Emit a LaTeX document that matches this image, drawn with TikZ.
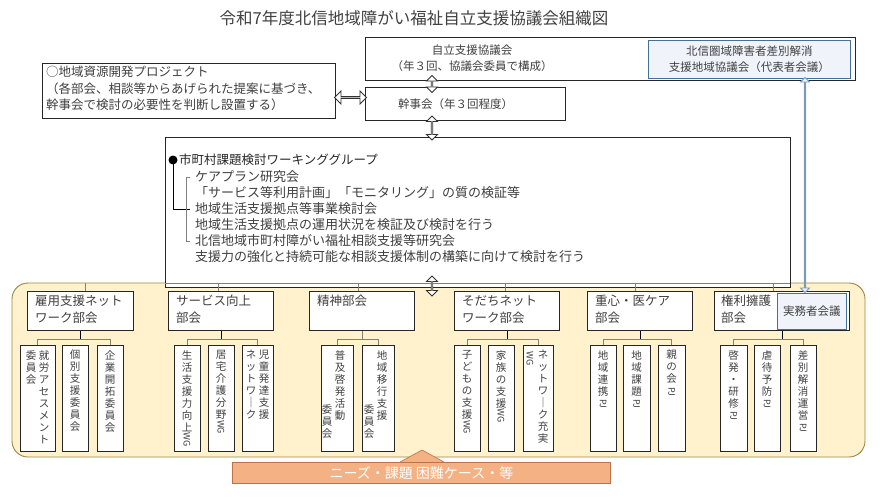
\documentclass[tikz,border=0pt]{standalone}
\usepackage{fontspec}
\setmainfont{Noto Sans CJK JP}
\usetikzlibrary{shapes.arrows,calc}
\definecolor{tan}{HTML}{FFF2CC}
\definecolor{tanline}{HTML}{A08440}
\definecolor{bluefill}{HTML}{F0F4FA}
\definecolor{blueline}{HTML}{41719C}
\definecolor{orangef}{HTML}{F4B183}
\definecolor{oranged}{HTML}{C0704A}
\definecolor{txt}{HTML}{404040}
\newcommand\RW{\rotatebox[origin=c]{-90}{\fontsize{9}{9}\selectfont WG}}
\newcommand\RP{\rotatebox[origin=c]{-90}{\fontsize{9}{9}\selectfont PJ}}
\begin{document}
\begin{tikzpicture}[x=1pt,y=-1pt,
  box/.style={draw=black!85,line width=1pt,fill=white,inner sep=0},
  sbox/.style={draw=black!85,line width=1pt,fill=white,inner sep=0,minimum height=106pt},
  tx/.style={text=txt,inner sep=0,font=\fontsize{11.5}{15.5}\selectfont,align=left},
  vt/.style={text=txt,inner sep=0,font=\fontsize{10.5}{12}\selectfont,align=center},
  conn/.style={draw=gray!80!tanline,line width=0.8pt},
  harrow/.style={double arrow,draw=black!80,fill=white,line width=0.8pt,double arrow head extend=2.5pt,inner sep=0,minimum width=11pt}]
\useasboundingbox (0,0) rectangle (880,500);
\node[text=txt,font=\fontsize{16.5}{16.5}\selectfont] (title) at (414,18) {令和7年度北信地域障がい福祉自立支援協議会組織図};
% top
\node[box,anchor=north west,minimum width=490pt,minimum height=43pt] (top) at (365,37) {};
\node[tx,align=center] (toptx) at (472,58) {自立支援協議会\\（年３回、協議会委員で構成）};
\node[draw=blueline,fill=bluefill,line width=0.8pt,anchor=north west,minimum width=202pt,minimum height=38pt,inner sep=0,text=txt,font=\fontsize{11.5}{15.5}\selectfont,align=center] (sabetsu) at (648,40) {北信圏域障害者差別解消\\支援地域協議会（代表者会議）};
\node[box,anchor=north west,minimum width=200pt,minimum height=33pt] (kanji) at (365,87) {};
\node[tx,anchor=west] at (398,104) {幹事会（年３回程度）};
\node[box,anchor=north west,minimum width=293pt,minimum height=55pt] (proj) at (42,63) {};
\node[tx,anchor=north west,font=\fontsize{12.5}{16.5}\selectfont] at (46,66) {○地域資源開発プロジェクト\\（各部会、相談等からあげられた提案に基づき、\\幹事会で検討の必要性を判断し設置する）};
% bottom region
\draw[fill=tan,draw=tanline,line width=0.9pt,rounded corners=16pt] (12,283) rectangle (865,457);
% WG box
\node[box,anchor=north west,minimum width=625pt,minimum height=150pt] (wg) at (165,137) {};
\fill (173,160) circle (4.5pt);
\draw[line width=0.8pt] (173,160) -- (173,209) -- (190,209);
\draw[gray,line width=0.8pt] (190,177) -- (186,177) -- (186,241) -- (190,241);
\node[tx,anchor=west,text=black!85,font=\fontsize{12.5}{12.5}\selectfont] at (179,160) {市町村課題検討ワーキンググループ};
\begin{scope}[every node/.style={tx,anchor=west,font=\fontsize{13}{13}\selectfont}]
\node at (195,177) {ケアプラン研究会};
\node at (195,193) {「サービス等利用計画」「モニタリング」の質の検証等};
\node at (195,209) {地域生活支援拠点等事業検討会};
\node at (195,225) {地域生活支援拠点の運用状況を検証及び検討を行う};
\node at (195,241) {北信地域市町村障がい福祉相談支援等研究会};
\node at (195,257) {支援力の強化と持続可能な相談支援体制の構築に向けて検討を行う};
\end{scope}
% arrows
\path (proj.east) -- (kanji.west) node[harrow,midway,minimum height=32pt,minimum width=13pt] (a1) {};
\node[harrow,shape border rotate=90,minimum height=17pt] (a2) at (432,84) {};
\node[harrow,shape border rotate=90,minimum height=24pt] (a3) at (432,128) {};
\node[harrow,shape border rotate=90,minimum height=20pt] (a4) at (432,286) {};
% departments
\begin{scope}[every node/.style={box,anchor=north west,minimum height=39pt}]
\node[minimum width=106pt] (d1) at (27,291) {};
\node[minimum width=105pt] (d2) at (168,291) {};
\node[minimum width=105pt] (d3) at (309,291) {};
\node[minimum width=105pt] (d4) at (454,291) {};
\node[minimum width=105pt] (d5) at (587,291) {};
\node[minimum width=135pt] (d6) at (714,291) {};
\end{scope}
\node[draw=blueline,fill=bluefill,line width=0.8pt,anchor=north west,minimum width=69pt,minimum height=36pt,inner sep=0,text=txt,font=\fontsize{11.5}{11.5}\selectfont] (jitsumu) at (777,292.5) {実務者会議};
\node[double arrow,shape border rotate=90,draw=blueline!70,fill=bluefill,line width=0.8pt,minimum width=9pt,double arrow head extend=2.5pt,inner sep=0,minimum height=215pt] (a5) at (805,185) {};
\begin{scope}[every node/.style={tx,anchor=north west,font=\fontsize{12.5}{17}\selectfont}]
\node at (35,295) {雇用支援ネット\\ワーク部会};
\node at (176,295) {サービス向上\\部会};
\node at (317,295) {精神部会};
\node at (462,295) {そだちネット\\ワーク部会};
\node at (595,295) {重心・医ケア\\部会};
\node at (721,295) {権利擁護\\部会};
\end{scope}
\foreach \d/\x in {d1/85,d2/218,d3/358,d4/505,d5/635,d6/773}
  \draw[conn] (\x,283) -- (\x,291);
\draw[conn] (165,283) -- (790,283);
% sub boxes
\newcommand\sbx[3]{\node[sbox,anchor=north,minimum width={(#3-#2)*1pt}] (#1) at ({(#2+#3)/2},345) {};}
\sbx{s11}{20}{55}\sbx{s12}{62}{88}\sbx{s13}{97}{123}
\sbx{s21}{174}{200}\sbx{s22}{208}{234}\sbx{s23}{242}{273}
\sbx{s31}{321}{353}\sbx{s32}{362}{394}
\sbx{s41}{454}{480}\sbx{s42}{488}{514}\sbx{s43}{523}{553}
\sbx{s51}{590}{616}\sbx{s52}{623}{650}\sbx{s53}{658}{685}
\sbx{s61}{720}{747}\sbx{s62}{754}{780}\sbx{s63}{790}{816}
\foreach \d/\a/\b/\c in {d1/s11/s12/s13,d2/s21/s22/s23,d4/s41/s42/s43,d5/s51/s52/s53,d6/s61/s62/s63}{
  \draw[conn] (\a.north) -- ++(0,-6) -| (\c.north);
  \draw[line width=0.8pt] (\d.south) -- (\d.south |- 0,339);
}
\draw[conn] (s31.north) -- ++(0,-6) -| (s32.north);
\draw[conn] (d3.south) -- (d3.south |- 0,339);
% vertical texts
\node[vt,anchor=north] at (44,350) {就\\労\\ア\\セ\\ス\\メ\\ン\\ト};
\node[vt,anchor=north] at (31,350) {委\\員\\会};
\node[vt,anchor=north] at (s12.north) [yshift=-5pt] {個\\別\\支\\援\\委\\員\\会};
\node[vt,anchor=north] at (s13.north) [yshift=-5pt] {企\\業\\開\\拓\\委\\員\\会};
\node[vt,anchor=north] at (s21.north) [yshift=-5pt] {生\\活\\支\\援\\力\\向\\上\\\RW};
\node[vt,anchor=north] at (s22.north) [yshift=-5pt] {居\\宅\\介\\護\\分\\野\\\RW};
\node[vt,anchor=north] at (264,350) {児\\童\\発\\達\\支\\援};
\node[vt,anchor=north] at (251,350) {ネ\\ッ\\ト\\ワ\\｜\\ク};
\node[vt,anchor=north] at (340,350) {普\\及\\啓\\発\\活\\動};
\node[vt,anchor=north] at (327,404) {委\\員\\会};
\node[vt,anchor=north] at (382,350) {地\\域\\移\\行\\支\\援};
\node[vt,anchor=north] at (369,404) {委\\員\\会};
\node[vt,anchor=north] at (s41.north) [yshift=-5pt] {子\\ど\\も\\の\\支\\援\\\RW};
\node[vt,anchor=north] at (s42.north) [yshift=-5pt] {家\\族\\の\\支\\援\\\RW};
\node[vt,anchor=north] at (543,350) {ネ\\ッ\\ト\\ワ\\｜\\ク\\充\\実};
\node[vt,anchor=north] at (530,351) {\RW};
\node[vt,anchor=north] at (s51.north) [yshift=-5pt] {地\\域\\連\\携\\\RP};
\node[vt,anchor=north] at (s52.north) [yshift=-5pt] {地\\域\\課\\題\\\RP};
\node[vt,anchor=north] at (s53.north) [yshift=-5pt] {親\\の\\会\\\RP};
\node[vt,anchor=north] at (s61.north) [yshift=-5pt] {啓\\発\\・\\研\\修\\\RP};
\node[vt,anchor=north] at (s62.north) [yshift=-5pt] {虐\\待\\予\\防\\\RP};
\node[vt,anchor=north] at (s63.north) [yshift=-5pt] {差\\別\\解\\消\\運\\営\\\RP};
% orange bar
\fill[orangef,draw=oranged,line width=0.6pt] (400,462) -- (422,450) -- (444,462);
\node[fill=orangef,draw=oranged,line width=0.8pt,anchor=north west,minimum width=378pt,minimum height=21pt,inner sep=0,text=white,font=\fontsize{14}{14}\selectfont] (needs) at (232,462) {ニーズ・課題 困難ケース・等};
\end{tikzpicture}
\end{document}
